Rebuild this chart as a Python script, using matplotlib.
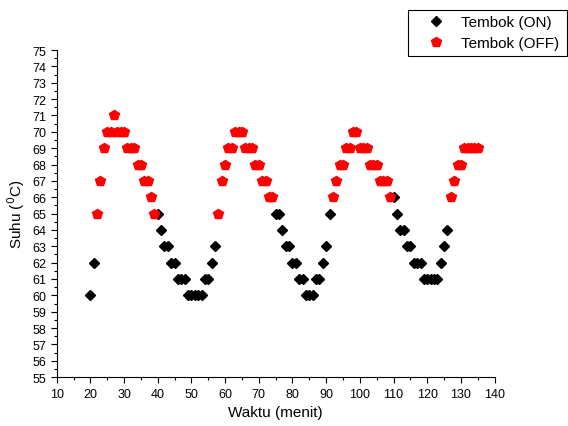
import matplotlib
matplotlib.use("Agg")
import matplotlib.pyplot as plt
from matplotlib.ticker import MultipleLocator

plt.rcParams['font.family'] = ['Liberation Sans', 'DejaVu Sans']

# --- data ---
on_x = [20, 21,
        40, 41, 42, 43, 44, 45, 46, 47, 48, 49, 50, 51, 52, 53, 54, 55, 56, 57,
        75, 76, 77, 78, 79, 80, 81, 82, 83, 84, 85, 86, 87, 88, 89, 90, 91,
        110, 111, 112, 113, 114, 115, 116, 117, 118, 119, 120, 121, 122, 123,
        124, 125, 126]
on_y = [60, 62,
        65, 64, 63, 63, 62, 62, 61, 61, 61, 60, 60, 60, 60, 60, 61, 61, 62, 63,
        65, 65, 64, 63, 63, 62, 62, 61, 61, 60, 60, 60, 61, 61, 62, 63, 65,
        66, 65, 64, 64, 63, 63, 62, 62, 62, 61, 61, 61, 61, 61,
        62, 63, 64]

off_x = [22, 23, 24, 25, 26, 27, 28, 29, 30, 31, 32, 33, 34, 35, 36, 37, 38, 39,
         58, 59, 60, 61, 62, 63, 64, 65, 66, 67, 68, 69, 70, 71, 72, 73, 74,
         92, 93, 94, 95, 96, 97, 98, 99, 100, 101, 102, 103, 104, 105, 106, 107,
         108, 109,
         127, 128, 129, 130, 131, 132, 133, 134, 135]
off_y = [65, 67, 69, 70, 70, 71, 70, 70, 70, 69, 69, 69, 68, 68, 67, 67, 66, 65,
         65, 67, 68, 69, 69, 70, 70, 70, 69, 69, 69, 68, 68, 67, 67, 66, 66,
         66, 67, 68, 68, 69, 69, 70, 70, 69, 69, 69, 68, 68, 68, 67, 67,
         67, 66,
         66, 67, 68, 68, 69, 69, 69, 69, 69]

fig = plt.figure(figsize=(5.68, 4.27), dpi=100)
ax = fig.add_axes([0.0998, 0.1145, 0.771, 0.766])

ax.plot(on_x, on_y, linestyle='none', marker='D', markersize=5.4,
        color='black', label='Tembok (ON)')
ax.plot(off_x, off_y, linestyle='none', marker='p', markersize=7.5,
        color='red', label='Tembok (OFF)')

ax.set_xlim(10, 140)
ax.set_ylim(55, 75)
ax.xaxis.set_major_locator(MultipleLocator(10))
ax.xaxis.set_minor_locator(MultipleLocator(5))
ax.yaxis.set_major_locator(MultipleLocator(1))
ax.yaxis.set_minor_locator(MultipleLocator(0.5))
ax.tick_params(which='major', direction='out', length=4, width=0.8, labelsize=9)
ax.tick_params(which='minor', direction='out', length=2, width=0.8)

for s in ['top', 'right']:
    ax.spines[s].set_visible(False)

ax.set_xlabel('Waktu (menit)', fontsize=11)
ax.set_ylabel('Suhu ($^{0}$C)', fontsize=11)

leg = fig.legend(loc='upper left', bbox_to_anchor=(0.718, 0.874, 0.281, 0.1),
                 mode='expand', borderaxespad=0,
                 fontsize=11, frameon=True, fancybox=False, framealpha=1,
                 edgecolor='black', borderpad=0.35, handletextpad=0.1,
                 labelspacing=0.45, handlelength=3.0)
leg.get_frame().set_linewidth(0.8)

fig.savefig('out.png', dpi=100)
